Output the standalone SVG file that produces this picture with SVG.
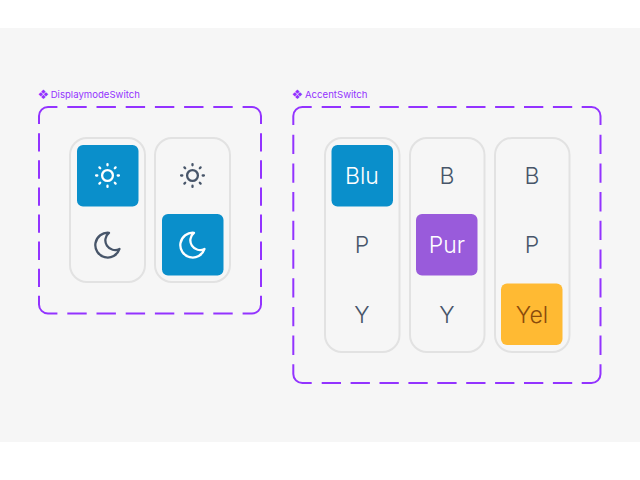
<svg xmlns="http://www.w3.org/2000/svg" width="640" height="480" viewBox="0 0 640 480">
<style>
.frame{fill:none;stroke:#9333ff;stroke-width:2}
.panel{fill:#f6f6f6;stroke:#e2e2e2;stroke-width:2}
.lbl{font-family:Inter,"Liberation Sans",sans-serif;font-size:9.6px;fill:#9333ff}
.ico{font-family:"DejaVu Sans",sans-serif;font-size:13px;fill:#9333ff}
.t{font-family:Inter,"Liberation Sans",sans-serif;font-size:23px;text-anchor:middle;font-weight:300}
.d{fill:#475569}.w{fill:#fff}
.ws{stroke:#fff;fill:none;stroke-width:2.300;stroke-linecap:round;stroke-linejoin:round}
.ds{stroke:#475569;fill:none;stroke-width:2.300;stroke-linecap:round;stroke-linejoin:round}
</style>
<defs>
<g id="sun"><circle r="5.400"/><path d="M0-11.400V-10.200M0 11.400V10.200M-11.400 0H-10.200M11.400 0H10.200M-8.100-8.100L-7.300-7.300M8.100 8.100L7.300 7.300M-8.100 8.100L-7.300 7.300M8.100-8.100L7.300-7.300"/></g>
<path id="moon" d="M1.500-12a9.700 9.700 0 0 0 10.500 16.200 12.400 12.400 0 1 1-10.500-16.200Z"/>
</defs>
<rect width="640" height="480" fill="#fff"/>
<rect y="28" width="640" height="414" fill="#f6f6f6"/>
<g id="DisplaymodeSwitch">
<text class="ico" x="37.500" y="98.500">❖</text><text class="lbl" x="50.700" y="97.500">DisplaymodeSwitch</text>
<g class="frame">
<path d="M39 124V116a9 9 0 0 1 9-9H57.400M242.600 107H252a9 9 0 0 1 9 9V124M261 295.700V304.500a9 9 0 0 1-9 9H242.600M57.400 313.500H48a9 9 0 0 1-9-9V295.700"/>
<path stroke-dasharray="19.400 9.800" d="M67.300 107H232.700M67.300 313.500H232.700"/>
<path stroke-dasharray="18.300 8.770" d="M39 133.300V287M261 133.300V287"/>
</g>
<g id="dm-light"><rect class="panel" x="70" y="138" width="75" height="144" rx="17"/>
<rect x="77" y="145" width="61.500" height="61.500" rx="6" fill="#0a8fcb"/>
<use href="#sun" class="ws" x="107.500" y="175.500"/>
<use href="#moon" class="ds" x="107.500" y="244.800"/></g>
<g id="dm-dark"><rect class="panel" x="155" y="138" width="75" height="144" rx="17"/>
<rect x="162" y="214" width="61.500" height="61.500" rx="6" fill="#0a8fcb"/>
<use href="#sun" class="ds" x="192.500" y="175.500"/>
<use href="#moon" class="ws" x="192.500" y="244.800"/></g>
</g>
<g id="AccentSwitch">
<text class="ico" x="291.500" y="98.500">❖</text><text class="lbl" x="305" y="97.500">AccentSwitch</text>
<g class="frame">
<path d="M293.300 125V116a9 9 0 0 1 9-9H311.700M581.700 107H591.500a9 9 0 0 1 9 9V125M600.500 364.300V374a9 9 0 0 1-9 9H581.700M311.700 383H302.300a9 9 0 0 1-9-9V364.300"/>
<path stroke-dasharray="19.300 9.600" d="M321.700 107H572.200M321.700 383H572.200"/>
<path stroke-dasharray="19.300 9.400" d="M293.300 134.700V355M600.500 134.700V355"/>
</g>
<g id="ac-blue"><rect class="panel" x="325" y="138" width="74.500" height="214" rx="17"/>
<rect x="331.500" y="145" width="61.500" height="61.500" rx="6" fill="#0a8fcb"/>
<text class="t w" x="362" y="183.500">Blu</text><text class="t d" x="362" y="253">P</text><text class="t d" x="362" y="322.500">Y</text></g>
<g id="ac-purple"><rect class="panel" x="410" y="138" width="74.500" height="214" rx="17"/>
<rect x="416" y="214" width="61.500" height="61.500" rx="6" fill="#995bdb"/>
<text class="t d" x="447" y="183.500">B</text><text class="t w" x="447" y="253">Pur</text><text class="t d" x="447" y="322.500">Y</text></g>
<g id="ac-yellow"><rect class="panel" x="495" y="138" width="74.500" height="214" rx="17"/>
<rect x="501" y="283.500" width="61.500" height="61.500" rx="6" fill="#ffba33"/>
<text class="t d" x="532" y="183.500">B</text><text class="t d" x="532" y="253">P</text><text class="t" fill="#8a4b0c" x="532" y="322.500">Yel</text></g>
</g>
<g id="connectors"/>
</svg>
